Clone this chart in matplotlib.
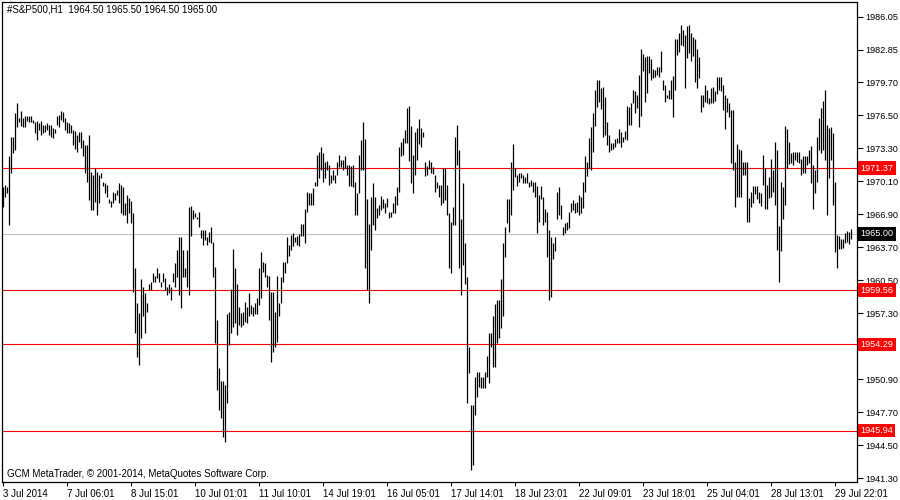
import matplotlib
matplotlib.use("Agg")
import matplotlib.pyplot as plt
from matplotlib.transforms import blended_transform_factory

plt.rcParams['font.family'] = ['Liberation Sans', 'DejaVu Sans']

# hourly bars, S&P500 H1, 3 Jul - 29 Jul 2014
highs = [
    1969.5, 1969.7, 1969.5, 1972.5, 1974.4, 1974.4, 1976.7, 1977.7, 1976.2, 1976.9,
    1976.2, 1976.4, 1976.4, 1976.4, 1976.4, 1976.0, 1975.8, 1975.9, 1975.7, 1975.9,
    1975.6, 1975.6, 1975.7, 1975.6, 1975.6, 1975.3, 1975.2, 1976.4, 1976.5, 1976.9,
    1976.8, 1976.2, 1975.8, 1975.7, 1975.6, 1975.1, 1975.0, 1974.6, 1974.9, 1974.9,
    1974.1, 1973.6, 1973.6, 1974.6, 1971.0, 1970.7, 1971.4, 1971.0, 1970.7, 1970.9,
    1970.0, 1969.9, 1969.7, 1968.4, 1968.2, 1969.1, 1969.0, 1969.3, 1969.9, 1969.7,
    1969.5, 1968.0, 1968.8, 1968.5, 1968.2, 1967.0, 1961.7, 1958.3, 1957.3, 1960.6,
    1959.9, 1959.3, 1958.3, 1960.1, 1960.3, 1961.2, 1960.9, 1961.7, 1961.2, 1960.3,
    1961.2, 1960.7, 1959.9, 1960.1, 1959.9, 1961.2, 1962.2, 1963.4, 1964.7, 1964.7,
    1963.4, 1961.7, 1963.4, 1967.6, 1967.7, 1967.3, 1967.0, 1966.6, 1967.1, 1965.4,
    1965.4, 1965.4, 1964.7, 1965.2, 1965.7, 1964.2, 1961.8, 1956.7, 1952.0, 1950.7,
    1950.7, 1950.4, 1957.2, 1957.4, 1959.7, 1963.5, 1961.7, 1960.1, 1957.9, 1957.3,
    1957.4, 1958.4, 1957.9, 1959.3, 1958.1, 1957.9, 1958.3, 1958.8, 1961.7, 1963.2,
    1962.3, 1962.2, 1961.0, 1960.9, 1959.4, 1959.4, 1957.4, 1960.9, 1958.3, 1960.8,
    1962.3, 1962.3, 1964.7, 1963.9, 1964.9, 1965.1, 1964.7, 1964.8, 1965.0, 1966.0,
    1966.0, 1967.4, 1969.1, 1969.0, 1969.0, 1969.4, 1970.0, 1972.6, 1972.9, 1973.4,
    1972.8, 1972.0, 1972.1, 1971.7, 1970.7, 1971.2, 1970.7, 1972.0, 1972.6, 1972.2,
    1972.2, 1972.5, 1971.7, 1971.7, 1971.6, 1971.7, 1970.0, 1969.0, 1972.6, 1974.1,
    1975.8, 1974.2, 1968.4, 1966.0, 1968.6, 1969.9, 1968.6, 1967.5, 1967.8, 1968.7,
    1968.4, 1968.0, 1968.5, 1967.1, 1967.1, 1968.0, 1968.7, 1969.5, 1973.4, 1973.9,
    1974.3, 1975.1, 1977.2, 1977.4, 1975.5, 1972.6, 1974.9, 1975.3, 1976.1, 1975.3,
    1974.9, 1972.0, 1971.6, 1972.2, 1972.0, 1971.5, 1970.7, 1970.0, 1969.7, 1969.7,
    1971.4, 1971.4, 1969.7, 1967.0, 1966.2, 1967.6, 1974.4, 1975.6, 1973.1, 1966.4,
    1969.9, 1964.1, 1960.8, 1954.0, 1948.4, 1948.4, 1951.1, 1951.6, 1951.6, 1951.1,
    1951.1, 1951.6, 1953.2, 1955.4, 1955.4, 1957.0, 1958.2, 1958.6, 1958.6, 1960.6,
    1964.1, 1965.7, 1968.4, 1968.4, 1972.0, 1973.7, 1971.4, 1970.7, 1970.9, 1970.9,
    1970.7, 1970.5, 1970.9, 1970.0, 1970.2, 1970.0, 1970.0, 1969.6, 1968.8, 1969.6,
    1968.6, 1967.4, 1967.1, 1965.4, 1964.7, 1964.1, 1964.7, 1969.1, 1969.5, 1967.8,
    1965.7, 1966.1, 1966.2, 1967.1, 1968.0, 1968.3, 1968.0, 1968.1, 1968.8, 1968.6,
    1970.0, 1972.5, 1972.0, 1974.3, 1975.4, 1976.7, 1978.9, 1979.9, 1979.9, 1979.1,
    1979.2, 1978.3, 1975.8, 1974.6, 1973.8, 1973.8, 1974.2, 1974.3, 1975.2, 1974.9,
    1974.4, 1975.0, 1977.4, 1977.3, 1977.7, 1978.9, 1978.8, 1978.5, 1980.4, 1982.9,
    1982.4, 1982.1, 1982.2, 1982.2, 1981.9, 1981.0, 1980.9, 1981.2, 1981.2, 1982.7,
    1979.9, 1979.4, 1978.5, 1978.9, 1979.9, 1980.3, 1983.9, 1983.9, 1984.5, 1985.2,
    1984.8, 1984.3, 1985.1, 1985.2, 1984.5, 1984.1, 1983.9, 1982.9, 1982.1, 1978.5,
    1978.5, 1979.4, 1978.9, 1978.2, 1979.1, 1979.2, 1978.8, 1980.2, 1980.2, 1980.2,
    1979.4, 1978.5, 1978.2, 1977.7, 1977.0, 1977.0, 1972.0, 1973.7, 1973.2, 1973.1,
    1972.0, 1972.0, 1972.0, 1968.5, 1969.1, 1969.6, 1969.6, 1969.6, 1969.1, 1969.0,
    1972.6, 1971.4, 1969.7, 1970.5, 1972.3, 1971.2, 1973.9, 1973.1, 1965.8, 1970.0,
    1969.5, 1975.5, 1975.2, 1973.9, 1972.8, 1972.9, 1972.9, 1972.9, 1972.9, 1972.3,
    1972.5, 1972.5, 1972.5, 1973.1, 1973.5, 1971.7, 1971.2, 1974.4, 1976.2, 1977.2,
    1977.9, 1978.9, 1975.6, 1975.3, 1975.4, 1974.8, 1970.0, 1964.9, 1964.8, 1964.5,
    1964.5, 1965.1, 1965.3, 1965.2, 1965.5,
]
lows = [
    1967.6, 1968.6, 1969.0, 1965.9, 1970.9, 1972.8, 1973.1, 1975.4, 1975.8, 1975.5,
    1975.4, 1975.4, 1975.9, 1975.8, 1975.8, 1975.7, 1974.8, 1974.1, 1975.1, 1974.6,
    1974.8, 1974.9, 1975.1, 1974.6, 1974.4, 1974.3, 1974.8, 1975.6, 1975.4, 1976.0,
    1975.8, 1975.1, 1974.8, 1974.8, 1974.8, 1973.6, 1973.2, 1972.9, 1973.9, 1973.3,
    1972.5, 1970.9, 1970.0, 1968.3, 1967.3, 1967.3, 1968.1, 1966.8, 1968.0, 1970.4,
    1969.6, 1969.0, 1968.6, 1968.0, 1967.6, 1968.0, 1968.3, 1968.8, 1968.0, 1967.0,
    1966.8, 1966.8, 1966.1, 1967.0, 1966.1, 1959.4, 1955.4, 1953.1, 1952.3, 1954.9,
    1957.0, 1955.4, 1957.4, 1959.6, 1959.6, 1960.3, 1960.3, 1960.7, 1960.3, 1959.9,
    1960.3, 1959.6, 1959.1, 1959.3, 1958.6, 1960.3, 1959.9, 1960.8, 1959.1, 1957.8,
    1960.8, 1960.8, 1959.9, 1959.1, 1964.8, 1966.4, 1966.6, 1966.4, 1965.7, 1964.6,
    1963.9, 1964.4, 1963.9, 1964.2, 1964.1, 1960.8, 1954.4, 1949.9, 1947.9, 1947.2,
    1945.3, 1944.8, 1948.6, 1954.2, 1955.4, 1956.0, 1956.4, 1955.2, 1956.2, 1956.0,
    1956.2, 1956.5, 1956.4, 1957.0, 1957.2, 1957.0, 1957.2, 1957.2, 1958.1, 1958.8,
    1961.3, 1960.8, 1959.9, 1956.7, 1952.6, 1953.6, 1954.0, 1954.5, 1957.0, 1958.3,
    1960.3, 1961.2, 1962.2, 1962.9, 1963.4, 1963.8, 1964.2, 1963.9, 1963.8, 1964.8,
    1964.8, 1964.1, 1967.1, 1967.8, 1967.8, 1967.8, 1969.6, 1969.6, 1970.4, 1971.2,
    1970.0, 1970.4, 1971.2, 1969.7, 1969.9, 1970.2, 1969.9, 1970.7, 1971.5, 1971.5,
    1971.2, 1971.4, 1970.7, 1969.6, 1969.6, 1969.5, 1966.8, 1966.8, 1969.0, 1971.2,
    1971.2, 1961.7, 1959.6, 1958.3, 1963.4, 1965.9, 1965.4, 1966.5, 1966.8, 1967.3,
    1967.5, 1967.0, 1967.6, 1966.5, 1966.6, 1967.0, 1967.0, 1967.8, 1969.1, 1972.5,
    1972.6, 1973.8, 1973.8, 1972.1, 1969.9, 1969.0, 1970.7, 1972.2, 1973.7, 1973.4,
    1974.4, 1970.6, 1970.7, 1971.3, 1970.9, 1970.8, 1969.1, 1969.4, 1968.6, 1967.8,
    1968.0, 1968.3, 1966.8, 1961.7, 1961.2, 1965.9, 1965.9, 1971.7, 1961.7, 1959.1,
    1962.0, 1960.1, 1948.6, 1951.5, 1942.1, 1942.6, 1947.5, 1949.2, 1950.2, 1950.1,
    1950.1, 1950.1, 1951.1, 1950.6, 1954.0, 1952.1, 1952.1, 1954.4, 1954.9, 1955.9,
    1957.0, 1962.8, 1966.1, 1965.2, 1966.8, 1969.3, 1970.5, 1969.6, 1970.0, 1970.4,
    1969.9, 1969.9, 1969.9, 1969.5, 1969.6, 1969.1, 1968.6, 1965.1, 1966.2, 1968.4,
    1965.9, 1966.2, 1962.8, 1958.6, 1958.9, 1962.6, 1963.3, 1966.4, 1966.8, 1966.4,
    1964.9, 1965.1, 1965.4, 1965.6, 1967.1, 1967.3, 1967.0, 1967.1, 1966.8, 1967.0,
    1967.5, 1969.1, 1970.6, 1971.4, 1971.2, 1972.9, 1975.5, 1977.3, 1977.8, 1977.1,
    1974.4, 1974.6, 1973.6, 1972.9, 1973.1, 1973.2, 1973.4, 1973.8, 1973.8, 1973.4,
    1973.9, 1974.2, 1974.1, 1975.6, 1975.6, 1977.7, 1976.7, 1977.2, 1975.4, 1976.4,
    1980.8, 1977.8, 1978.7, 1980.6, 1979.9, 1980.1, 1980.2, 1980.4, 1980.2, 1980.7,
    1978.9, 1977.8, 1978.2, 1978.1, 1978.1, 1976.3, 1978.9, 1982.3, 1982.6, 1983.3,
    1983.2, 1979.1, 1982.0, 1982.5, 1981.8, 1982.2, 1979.7, 1979.1, 1980.1, 1976.8,
    1977.3, 1977.8, 1977.7, 1977.6, 1977.7, 1977.7, 1977.9, 1978.6, 1978.9, 1978.8,
    1977.0, 1975.2, 1976.8, 1976.3, 1971.9, 1971.2, 1967.6, 1968.6, 1968.6, 1968.6,
    1970.7, 1970.7, 1966.2, 1966.2, 1967.6, 1968.0, 1968.9, 1968.4, 1968.0, 1967.7,
    1969.7, 1967.4, 1967.4, 1968.5, 1968.6, 1969.1, 1967.8, 1963.4, 1960.3, 1963.3,
    1966.4, 1967.8, 1971.4, 1971.8, 1971.9, 1971.7, 1972.2, 1972.0, 1971.9, 1970.7,
    1970.9, 1970.9, 1971.7, 1971.9, 1969.9, 1967.4, 1969.0, 1970.0, 1973.1, 1972.8,
    1973.1, 1972.2, 1966.8, 1970.4, 1972.2, 1967.8, 1963.2, 1961.7, 1963.5, 1963.5,
    1963.6, 1964.1, 1964.2, 1964.0, 1964.5,
]

x_labels = ['3 Jul 2014', '7 Jul 06:01', '8 Jul 15:01', '10 Jul 01:01', '11 Jul 10:01',
            '14 Jul 19:01', '16 Jul 05:01', '17 Jul 14:01', '18 Jul 23:01', '22 Jul 09:01',
            '23 Jul 18:01', '25 Jul 04:01', '28 Jul 13:01', '29 Jul 22:01']
bars_per_label = 32

price_ticks = [1986.05, 1982.85, 1979.70, 1976.50, 1973.30, 1970.10, 1966.90, 1963.70,
               1960.50, 1957.30, 1954.10, 1950.90, 1947.70, 1944.50, 1941.30]
level_lines = [1971.37, 1959.56, 1954.29, 1945.94]
current_price = 1965.00

title = '#S&P500,H1  1964.50 1965.50 1964.50 1965.00'
footer = 'GCM MetaTrader, \u00a9 2001-2014, MetaQuotes Software Corp.'

n = min(len(highs), len(lows))
idx = list(range(n))

fig = plt.figure(figsize=(9, 5), dpi=100)
fig.patch.set_facecolor('white')
ax = fig.add_axes([2 / 900, 18 / 500, 855 / 900, 480 / 500])

ax.axhline(current_price, color='#c0c0c0', lw=0.8, zorder=1)
for lvl in level_lines:
    ax.axhline(lvl, color='red', lw=0.8, zorder=1)

ax.vlines(idx, lows[:n], highs[:n], color='black', lw=0.9, zorder=2)

ax.set_xlim(-0.5, 427)
ax.set_ylim(1940.96, 1987.47)

for sp in ax.spines.values():
    sp.set_color('black')
    sp.set_linewidth(0.9)

ax.yaxis.tick_right()
ax.set_yticks(price_ticks)
ax.set_yticklabels(['' if abs(p - 1954.10) < 0.01 else f'{p:.2f}' for p in price_ticks])
ax.tick_params(axis='y', direction='out', length=4, width=0.8, pad=2, labelsize=6.6)

xt = list(range(0, n, bars_per_label))
ax.set_xticks(xt)
ax.set_xticklabels(x_labels[:len(xt)])
ax.tick_params(axis='x', direction='out', length=3, width=0.8, pad=2, labelsize=7)
for lbl in ax.get_xticklabels():
    lbl.set_ha('left')

trans = blended_transform_factory(ax.transAxes, ax.transData)
for lvl in level_lines:
    ax.text(1.004, lvl, f'{lvl:.2f}', transform=trans, color='white', fontsize=6.6,
            va='center', ha='left', clip_on=False, zorder=5,
            bbox=dict(boxstyle='square,pad=0.25', fc='red', ec='none'))
ax.text(1.004, current_price, f'{current_price:.2f}', transform=trans, color='white',
        fontsize=6.6, va='center', ha='left', clip_on=False, zorder=5,
        bbox=dict(boxstyle='square,pad=0.25', fc='black', ec='none'))

ax.text(5 / 855, 1 - 8 / 480, title, transform=ax.transAxes, fontsize=7,
        va='center', ha='left')
ax.text(5 / 855, 8 / 480, footer, transform=ax.transAxes, fontsize=7,
        va='center', ha='left')

fig.savefig('out.png', dpi=100)
